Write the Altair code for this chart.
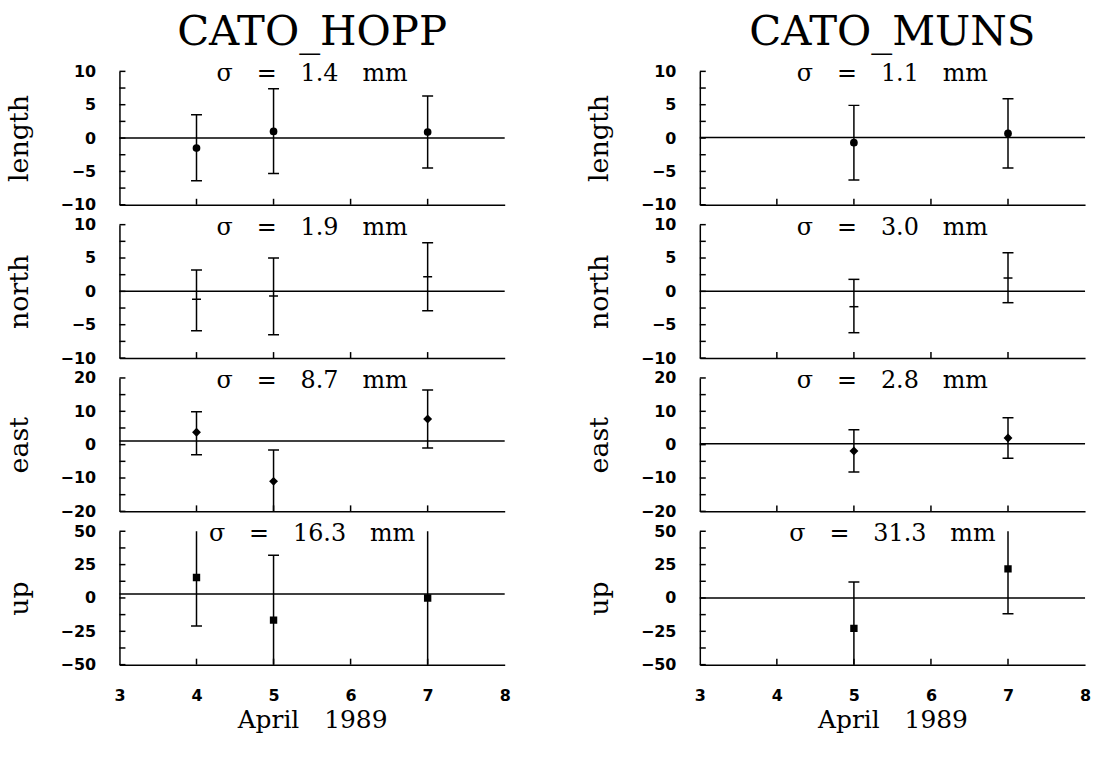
import altair as alt
import pandas as pd

# ---------------- data ----------------
DAYS_HOPP = [4, 5, 7]
HOPP_LENGTH = [-1.5, 1.0, 0.9]
HOPP_LENGTH_LO = [-6.4, -5.3, -4.5]
HOPP_LENGTH_HI = [3.5, 7.4, 6.3]
HOPP_NORTH = [-1.2, -0.7, 2.2]
HOPP_NORTH_LO = [-5.9, -6.5, -2.9]
HOPP_NORTH_HI = [3.2, 5.0, 7.3]
HOPP_EAST = [3.7, -11.0, 7.7]
HOPP_EAST_LO = [-3.0, -20.4, -1.0]
HOPP_EAST_HI = [9.9, -1.6, 16.4]
HOPP_UP = [15.3, -16.6, 0.0]
HOPP_UP_LO = [-21.0, -65.0, -55.0]
HOPP_UP_HI = [51.6, 32.0, 55.0]
HOPP_REF = [0.0, 0.0, 1.1, 3.0]
HOPP_SIGMA = ["1.4", "1.9", "8.7", "16.3"]

DAYS_MUNS = [5, 7]
MUNS_LENGTH = [-0.7, 0.7]
MUNS_LENGTH_LO = [-6.3, -4.5]
MUNS_LENGTH_HI = [4.9, 5.9]
MUNS_NORTH = [-2.3, 2.0]
MUNS_NORTH_LO = [-6.2, -1.7]
MUNS_NORTH_HI = [1.8, 5.8]
MUNS_EAST = [-1.9, 2.0]
MUNS_EAST_LO = [-8.2, -4.1]
MUNS_EAST_HI = [4.5, 8.1]
MUNS_UP = [-22.8, 21.8]
MUNS_UP_LO = [-57.5, -11.9]
MUNS_UP_HI = [11.9, 55.5]
MUNS_REF = [0.1, 0.0, 0.3, 0.0]
MUNS_SIGMA = ["1.1", "3.0", "2.8", "31.3"]

COMPONENTS = ["length", "north", "east", "up"]
Y_DOMAINS = [[-10, 10], [-10, 10], [-20, 20], [-50, 50]]
Y_LABELS = [[-10, -5, 0, 5, 10], [-10, -5, 0, 5, 10],
            [-20, -10, 0, 10, 20], [-50, -25, 0, 25, 50]]
Y_TICKS = [[-10, -7.5, -5, -2.5, 0, 2.5, 5, 7.5, 10],
           [-10, -7.5, -5, -2.5, 0, 2.5, 5, 7.5, 10],
           [-20, -15, -10, -5, 0, 5, 10, 15, 20],
           [-50, -37.5, -25, -12.5, 0, 12.5, 25, 37.5, 50]]
MARKERS = ["circle", "tick", "diamond", "square"]
MARKER_SIZES = [60, 0, 80, 55]
X_DOMAIN = [3, 8]
X_LABELS = [3, 4, 5, 6, 7, 8]
X_TICKS = [4, 5, 6, 7]
X_TITLE = "April\u20031989"

W, H = 387, 134
SP = "\u2003"


def panel(days, val, lo, hi, ref, sigma, comp, dom, labels, yticks, marker,
          msize, bottom, title=None):
    df = pd.DataFrame({"day": days, "val": val, "lo": lo, "hi": hi})
    xscale = alt.Scale(domain=X_DOMAIN, nice=False, zero=False)
    yscale = alt.Scale(domain=dom, nice=False, zero=False)
    if bottom:
        xaxis = alt.Axis(values=X_LABELS, format="d", labelFont="DejaVu Sans",
                         labelFontWeight="bold", labelFontSize=16, labelColor="black",
                         labelPadding=23, ticks=False, tickSize=0, grid=False,
                         domainColor="black", domainWidth=1.5, labelFlush=False,
                         labelOverlap=False, title=X_TITLE, titleFont="DejaVu Serif",
                         titleFontSize=25, titleFontWeight="normal", titleColor="black",
                         titlePadding=4)
    else:
        xaxis = alt.Axis(labels=False, ticks=False, tickSize=0, grid=False,
                         domainColor="black", domainWidth=1.5, title=None)
    yaxis = alt.Axis(values=labels, format="d", labelFont="DejaVu Sans",
                     labelFontWeight="bold", labelFontSize=16, labelColor="black",
                     labelPadding=24, ticks=False, tickSize=0, grid=False,
                     domainColor="black", domainWidth=1.5, labelFlush=False,
                     labelOverlap=False, title=comp, titleFont="DejaVu Serif",
                     titleFontSize=27, titleFontWeight="normal", titleColor="black",
                     titlePadding=27)

    def X(f):
        return alt.X(f, type="quantitative", scale=xscale, axis=xaxis)

    def Y(f):
        return alt.Y(f, type="quantitative", scale=yscale, axis=yaxis)

    base = alt.Chart(df)
    refline = alt.Chart(pd.DataFrame({"ref": [ref]})).mark_rule(
        color="black", strokeWidth=1.5).encode(
        y=Y("ref"), x=alt.value(0), x2=alt.value(W))
    yt = alt.Chart(pd.DataFrame({"t": yticks})).mark_rule(
        color="black", strokeWidth=1.5).encode(
        y=Y("t"), x=alt.value(0), x2=alt.value(6))
    xt = alt.Chart(pd.DataFrame({"t": X_TICKS})).mark_rule(
        color="black", strokeWidth=1.5).encode(
        x=X("t"), y=alt.value(H), y2=alt.value(H - 6))
    bars = base.mark_rule(color="black", strokeWidth=1.5, clip=True).encode(
        x=X("day"), y=Y("lo"), y2="hi:Q")
    cap_lo = base.mark_tick(orient="horizontal", size=11, thickness=1.5,
                            color="black", clip=True, opacity=1).encode(
        x=X("day"), y=Y("lo"))
    cap_hi = base.mark_tick(orient="horizontal", size=11, thickness=1.5,
                            color="black", clip=True, opacity=1).encode(
        x=X("day"), y=Y("hi"))
    if marker == "tick":
        pts = base.mark_tick(orient="horizontal", size=9, thickness=1.5,
                             color="black", clip=True, opacity=1).encode(
            x=X("day"), y=Y("val"))
    else:
        pts = base.mark_point(filled=True, shape=marker, size=msize, color="black",
                              opacity=1, clip=True).encode(
            x=X("day"), y=Y("val"))
    sig = alt.Chart(pd.DataFrame({"s": [f"σ{SP}={SP}{sigma}{SP}mm"]})).mark_text(
        font="DejaVu Serif", fontSize=24, baseline="middle", align="center",
        dy=3, color="black").encode(
        text="s:N", x=alt.value(W / 2), y=alt.value(0))
    layer = alt.layer(refline, yt, xt, bars, cap_lo, cap_hi, pts, sig).properties(
        width=W, height=H)
    if title:
        layer = layer.properties(title=alt.TitleParams(
            text=title, font="DejaVu Serif", fontSize=42, fontWeight="normal",
            anchor="middle", frame="group", color="black", offset=8))
    return layer


def column(days, vals, los, his, refs, sigmas, title):
    panels = []
    for i in range(4):
        panels.append(panel(days, vals[i], los[i], his[i], refs[i], sigmas[i],
                            COMPONENTS[i], Y_DOMAINS[i], Y_LABELS[i], Y_TICKS[i],
                            MARKERS[i], MARKER_SIZES[i], i == 3,
                            title if i == 0 else None))
    return alt.vconcat(*panels, spacing=20, bounds="flush")


left = column(DAYS_HOPP,
              [HOPP_LENGTH, HOPP_NORTH, HOPP_EAST, HOPP_UP],
              [HOPP_LENGTH_LO, HOPP_NORTH_LO, HOPP_EAST_LO, HOPP_UP_LO],
              [HOPP_LENGTH_HI, HOPP_NORTH_HI, HOPP_EAST_HI, HOPP_UP_HI],
              HOPP_REF, HOPP_SIGMA, "CATO_HOPP")
right = column(DAYS_MUNS,
               [MUNS_LENGTH, MUNS_NORTH, MUNS_EAST, MUNS_UP],
               [MUNS_LENGTH_LO, MUNS_NORTH_LO, MUNS_EAST_LO, MUNS_UP_LO],
               [MUNS_LENGTH_HI, MUNS_NORTH_HI, MUNS_EAST_HI, MUNS_UP_HI],
               MUNS_REF, MUNS_SIGMA, "CATO_MUNS")

chart = alt.hconcat(left, right, spacing=75).properties(
    padding={"left": 5, "top": 10, "right": 5, "bottom": 5},
    background="white",
).configure_view(stroke=None)

chart.save("out.html", embed_options={"renderer": "svg", "actions": False})
